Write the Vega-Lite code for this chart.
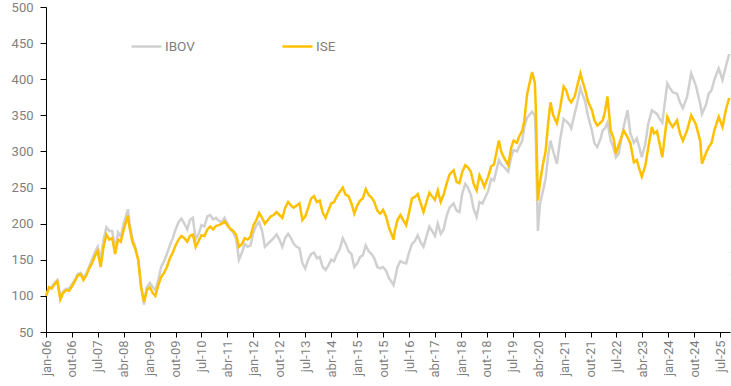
{
  "$schema": "https://vega.github.io/schema/vega-lite/v6.json",
  "autosize": {"type": "none"},
  "padding": {"left": 46, "top": 7, "right": 1, "bottom": 54},
  "width": 684,
  "height": 325,
  "background": "white",
  "config": {
    "view": {"stroke": null},
    "font": "Roboto",
    "axis": {"labelFont": "Roboto", "labelColor": "#7f7f7f", "labelFontSize": 13, "domainColor": "#000000", "tickColor": "#000000", "grid": false, "title": null}
  },
  "resolve": {"scale": {"y": "independent"}},
  "layer": [
    {
      "data": {"values": [
        {"date":"2006-01-02","ISE":100,"IBOV":100},
        {"date":"2006-02-01","ISE":112,"IBOV":110},
        {"date":"2006-03-01","ISE":110,"IBOV":112},
        {"date":"2006-04-01","ISE":116,"IBOV":118},
        {"date":"2006-05-01","ISE":120,"IBOV":122},
        {"date":"2006-06-01","ISE":95,"IBOV":100},
        {"date":"2006-07-01","ISE":104,"IBOV":106},
        {"date":"2006-08-01","ISE":108,"IBOV":110},
        {"date":"2006-09-01","ISE":107,"IBOV":110},
        {"date":"2006-10-01","ISE":113,"IBOV":116},
        {"date":"2006-11-01","ISE":120,"IBOV":122},
        {"date":"2006-12-01","ISE":128,"IBOV":130},
        {"date":"2007-01-01","ISE":130,"IBOV":132},
        {"date":"2007-02-01","ISE":122,"IBOV":126},
        {"date":"2007-03-01","ISE":128,"IBOV":130},
        {"date":"2007-04-01","ISE":138,"IBOV":140},
        {"date":"2007-05-01","ISE":145,"IBOV":150},
        {"date":"2007-06-01","ISE":155,"IBOV":160},
        {"date":"2007-07-01","ISE":162,"IBOV":168},
        {"date":"2007-08-01","ISE":140,"IBOV":150},
        {"date":"2007-09-01","ISE":168,"IBOV":178},
        {"date":"2007-10-01","ISE":185,"IBOV":195},
        {"date":"2007-11-01","ISE":178,"IBOV":190},
        {"date":"2007-12-01","ISE":180,"IBOV":190},
        {"date":"2008-01-01","ISE":158,"IBOV":165},
        {"date":"2008-02-01","ISE":178,"IBOV":188},
        {"date":"2008-03-01","ISE":175,"IBOV":182},
        {"date":"2008-04-01","ISE":192,"IBOV":200},
        {"date":"2008-05-15","ISE":211,"IBOV":220},
        {"date":"2008-06-01","ISE":195,"IBOV":200},
        {"date":"2008-07-01","ISE":175,"IBOV":180},
        {"date":"2008-08-01","ISE":165,"IBOV":168},
        {"date":"2008-09-01","ISE":150,"IBOV":150},
        {"date":"2008-10-01","ISE":112,"IBOV":115},
        {"date":"2008-11-01","ISE":92,"IBOV":88},
        {"date":"2008-12-01","ISE":108,"IBOV":112},
        {"date":"2009-01-01","ISE":112,"IBOV":118},
        {"date":"2009-02-01","ISE":104,"IBOV":112},
        {"date":"2009-03-01","ISE":100,"IBOV":108},
        {"date":"2009-04-01","ISE":115,"IBOV":122},
        {"date":"2009-05-01","ISE":126,"IBOV":140},
        {"date":"2009-06-01","ISE":132,"IBOV":148},
        {"date":"2009-07-01","ISE":140,"IBOV":158},
        {"date":"2009-08-01","ISE":152,"IBOV":170},
        {"date":"2009-09-01","ISE":160,"IBOV":180},
        {"date":"2009-10-01","ISE":170,"IBOV":192},
        {"date":"2009-11-01","ISE":178,"IBOV":202},
        {"date":"2009-12-01","ISE":183,"IBOV":207},
        {"date":"2010-01-01","ISE":180,"IBOV":200},
        {"date":"2010-02-01","ISE":175,"IBOV":192},
        {"date":"2010-03-01","ISE":183,"IBOV":205},
        {"date":"2010-04-01","ISE":185,"IBOV":208},
        {"date":"2010-05-01","ISE":168,"IBOV":178},
        {"date":"2010-06-01","ISE":176,"IBOV":186},
        {"date":"2010-07-01","ISE":184,"IBOV":198},
        {"date":"2010-08-01","ISE":183,"IBOV":196},
        {"date":"2010-09-01","ISE":192,"IBOV":210},
        {"date":"2010-10-01","ISE":196,"IBOV":212},
        {"date":"2010-11-01","ISE":192,"IBOV":206},
        {"date":"2010-12-01","ISE":197,"IBOV":208},
        {"date":"2011-01-01","ISE":198,"IBOV":204},
        {"date":"2011-02-01","ISE":200,"IBOV":202},
        {"date":"2011-03-01","ISE":203,"IBOV":208},
        {"date":"2011-04-01","ISE":198,"IBOV":200},
        {"date":"2011-05-01","ISE":193,"IBOV":192},
        {"date":"2011-06-01","ISE":190,"IBOV":188},
        {"date":"2011-07-01","ISE":185,"IBOV":180},
        {"date":"2011-08-01","ISE":168,"IBOV":150},
        {"date":"2011-09-01","ISE":172,"IBOV":160},
        {"date":"2011-10-01","ISE":180,"IBOV":172},
        {"date":"2011-11-01","ISE":178,"IBOV":168},
        {"date":"2011-12-01","ISE":182,"IBOV":170},
        {"date":"2012-01-01","ISE":198,"IBOV":188},
        {"date":"2012-02-01","ISE":205,"IBOV":198},
        {"date":"2012-03-01","ISE":215,"IBOV":202},
        {"date":"2012-04-01","ISE":208,"IBOV":190},
        {"date":"2012-05-01","ISE":200,"IBOV":168},
        {"date":"2012-06-01","ISE":205,"IBOV":172},
        {"date":"2012-07-01","ISE":210,"IBOV":176},
        {"date":"2012-08-01","ISE":212,"IBOV":180},
        {"date":"2012-09-01","ISE":216,"IBOV":185},
        {"date":"2012-10-01","ISE":212,"IBOV":178},
        {"date":"2012-11-01","ISE":208,"IBOV":168},
        {"date":"2012-12-01","ISE":222,"IBOV":180},
        {"date":"2013-01-01","ISE":230,"IBOV":186},
        {"date":"2013-02-01","ISE":225,"IBOV":180},
        {"date":"2013-03-01","ISE":222,"IBOV":172},
        {"date":"2013-04-01","ISE":225,"IBOV":168},
        {"date":"2013-05-01","ISE":228,"IBOV":166},
        {"date":"2013-06-01","ISE":205,"IBOV":145},
        {"date":"2013-07-01","ISE":210,"IBOV":138},
        {"date":"2013-08-01","ISE":222,"IBOV":150},
        {"date":"2013-09-01","ISE":235,"IBOV":158},
        {"date":"2013-10-01","ISE":238,"IBOV":160},
        {"date":"2013-11-01","ISE":230,"IBOV":152},
        {"date":"2013-12-01","ISE":232,"IBOV":154},
        {"date":"2014-01-01","ISE":215,"IBOV":140},
        {"date":"2014-02-01","ISE":208,"IBOV":136},
        {"date":"2014-03-01","ISE":218,"IBOV":142},
        {"date":"2014-04-01","ISE":228,"IBOV":150},
        {"date":"2014-05-01","ISE":230,"IBOV":148},
        {"date":"2014-06-01","ISE":238,"IBOV":158},
        {"date":"2014-07-01","ISE":244,"IBOV":165},
        {"date":"2014-08-01","ISE":250,"IBOV":180},
        {"date":"2014-09-01","ISE":240,"IBOV":172},
        {"date":"2014-10-01","ISE":238,"IBOV":162},
        {"date":"2014-11-01","ISE":228,"IBOV":158},
        {"date":"2014-12-01","ISE":214,"IBOV":140},
        {"date":"2015-01-01","ISE":225,"IBOV":145},
        {"date":"2015-02-01","ISE":232,"IBOV":154},
        {"date":"2015-03-01","ISE":235,"IBOV":156},
        {"date":"2015-04-01","ISE":248,"IBOV":170},
        {"date":"2015-05-01","ISE":240,"IBOV":162},
        {"date":"2015-06-01","ISE":236,"IBOV":158},
        {"date":"2015-07-01","ISE":230,"IBOV":152},
        {"date":"2015-08-01","ISE":218,"IBOV":140},
        {"date":"2015-09-01","ISE":214,"IBOV":138},
        {"date":"2015-10-01","ISE":219,"IBOV":140},
        {"date":"2015-11-01","ISE":210,"IBOV":135},
        {"date":"2015-12-01","ISE":195,"IBOV":125},
        {"date":"2016-01-20","ISE":178,"IBOV":115},
        {"date":"2016-02-01","ISE":190,"IBOV":122},
        {"date":"2016-03-01","ISE":205,"IBOV":140},
        {"date":"2016-04-01","ISE":212,"IBOV":148},
        {"date":"2016-05-01","ISE":205,"IBOV":146},
        {"date":"2016-06-01","ISE":198,"IBOV":145},
        {"date":"2016-07-01","ISE":215,"IBOV":160},
        {"date":"2016-08-01","ISE":235,"IBOV":172},
        {"date":"2016-09-01","ISE":237,"IBOV":176},
        {"date":"2016-10-01","ISE":241,"IBOV":184},
        {"date":"2016-11-01","ISE":228,"IBOV":174},
        {"date":"2016-12-01","ISE":216,"IBOV":168},
        {"date":"2017-01-01","ISE":230,"IBOV":182},
        {"date":"2017-02-01","ISE":243,"IBOV":196},
        {"date":"2017-03-01","ISE":238,"IBOV":190},
        {"date":"2017-04-01","ISE":233,"IBOV":183},
        {"date":"2017-05-01","ISE":246,"IBOV":200},
        {"date":"2017-06-01","ISE":230,"IBOV":186},
        {"date":"2017-07-01","ISE":240,"IBOV":192},
        {"date":"2017-08-01","ISE":255,"IBOV":210},
        {"date":"2017-09-01","ISE":268,"IBOV":222},
        {"date":"2017-10-15","ISE":274,"IBOV":228},
        {"date":"2017-11-15","ISE":258,"IBOV":218},
        {"date":"2017-12-15","ISE":256,"IBOV":216},
        {"date":"2018-01-15","ISE":272,"IBOV":242},
        {"date":"2018-02-15","ISE":281,"IBOV":255},
        {"date":"2018-03-15","ISE":278,"IBOV":250},
        {"date":"2018-04-15","ISE":272,"IBOV":240},
        {"date":"2018-05-15","ISE":255,"IBOV":220},
        {"date":"2018-06-15","ISE":246,"IBOV":209},
        {"date":"2018-07-15","ISE":267,"IBOV":230},
        {"date":"2018-08-15","ISE":258,"IBOV":228},
        {"date":"2018-09-05","ISE":251,"IBOV":234},
        {"date":"2018-10-15","ISE":265,"IBOV":245},
        {"date":"2018-11-15","ISE":279,"IBOV":262},
        {"date":"2018-12-15","ISE":282,"IBOV":260},
        {"date":"2019-02-05","ISE":315,"IBOV":288},
        {"date":"2019-03-01","ISE":300,"IBOV":282},
        {"date":"2019-03-28","ISE":292,"IBOV":279},
        {"date":"2019-05-15","ISE":281,"IBOV":272},
        {"date":"2019-06-15","ISE":305,"IBOV":292},
        {"date":"2019-07-10","ISE":315,"IBOV":302},
        {"date":"2019-08-15","ISE":312,"IBOV":300},
        {"date":"2019-09-05","ISE":320,"IBOV":306},
        {"date":"2019-10-10","ISE":329,"IBOV":315},
        {"date":"2019-11-01","ISE":343,"IBOV":334},
        {"date":"2019-12-01","ISE":380,"IBOV":347},
        {"date":"2020-01-22","ISE":410,"IBOV":355},
        {"date":"2020-02-20","ISE":395,"IBOV":350},
        {"date":"2020-03-01","ISE":360,"IBOV":318},
        {"date":"2020-03-23","ISE":232,"IBOV":190},
        {"date":"2020-04-15","ISE":258,"IBOV":228},
        {"date":"2020-05-15","ISE":282,"IBOV":245},
        {"date":"2020-06-12","ISE":300,"IBOV":262},
        {"date":"2020-07-10","ISE":340,"IBOV":295},
        {"date":"2020-08-03","ISE":368,"IBOV":315},
        {"date":"2020-09-01","ISE":350,"IBOV":300},
        {"date":"2020-10-10","ISE":339,"IBOV":283},
        {"date":"2020-11-15","ISE":362,"IBOV":318},
        {"date":"2020-12-20","ISE":390,"IBOV":345},
        {"date":"2021-01-15","ISE":385,"IBOV":342},
        {"date":"2021-02-15","ISE":372,"IBOV":338},
        {"date":"2021-03-10","ISE":368,"IBOV":332},
        {"date":"2021-04-15","ISE":376,"IBOV":352},
        {"date":"2021-05-15","ISE":392,"IBOV":368},
        {"date":"2021-06-15","ISE":408,"IBOV":388},
        {"date":"2021-07-10","ISE":396,"IBOV":378},
        {"date":"2021-08-05","ISE":385,"IBOV":369},
        {"date":"2021-09-01","ISE":370,"IBOV":350},
        {"date":"2021-10-15","ISE":357,"IBOV":329},
        {"date":"2021-11-10","ISE":343,"IBOV":311},
        {"date":"2021-12-10","ISE":336,"IBOV":306},
        {"date":"2022-01-15","ISE":340,"IBOV":318},
        {"date":"2022-02-05","ISE":343,"IBOV":329},
        {"date":"2022-03-01","ISE":355,"IBOV":332},
        {"date":"2022-03-28","ISE":376,"IBOV":340},
        {"date":"2022-05-01","ISE":329,"IBOV":315},
        {"date":"2022-06-01","ISE":318,"IBOV":305},
        {"date":"2022-06-25","ISE":297,"IBOV":292},
        {"date":"2022-07-25","ISE":309,"IBOV":297},
        {"date":"2022-09-15","ISE":329,"IBOV":334},
        {"date":"2022-10-25","ISE":320,"IBOV":357},
        {"date":"2022-11-25","ISE":311,"IBOV":325},
        {"date":"2023-01-01","ISE":285,"IBOV":312},
        {"date":"2023-02-01","ISE":288,"IBOV":318},
        {"date":"2023-03-01","ISE":275,"IBOV":305},
        {"date":"2023-03-25","ISE":265,"IBOV":292},
        {"date":"2023-05-01","ISE":280,"IBOV":310},
        {"date":"2023-06-01","ISE":305,"IBOV":338},
        {"date":"2023-07-10","ISE":334,"IBOV":357},
        {"date":"2023-08-01","ISE":325,"IBOV":355},
        {"date":"2023-09-01","ISE":328,"IBOV":352},
        {"date":"2023-10-01","ISE":310,"IBOV":345},
        {"date":"2023-10-28","ISE":292,"IBOV":340},
        {"date":"2023-12-01","ISE":330,"IBOV":375},
        {"date":"2023-12-20","ISE":348,"IBOV":394},
        {"date":"2024-01-15","ISE":340,"IBOV":388},
        {"date":"2024-02-15","ISE":334,"IBOV":382},
        {"date":"2024-04-01","ISE":343,"IBOV":380},
        {"date":"2024-05-01","ISE":325,"IBOV":368},
        {"date":"2024-06-01","ISE":315,"IBOV":360},
        {"date":"2024-07-15","ISE":329,"IBOV":375},
        {"date":"2024-08-28","ISE":350,"IBOV":408},
        {"date":"2024-10-15","ISE":338,"IBOV":392},
        {"date":"2024-12-01","ISE":315,"IBOV":366},
        {"date":"2024-12-20","ISE":283,"IBOV":352},
        {"date":"2025-02-01","ISE":298,"IBOV":365},
        {"date":"2025-03-01","ISE":306,"IBOV":380},
        {"date":"2025-04-01","ISE":312,"IBOV":385},
        {"date":"2025-05-01","ISE":330,"IBOV":400},
        {"date":"2025-06-15","ISE":348,"IBOV":415},
        {"date":"2025-07-25","ISE":334,"IBOV":399},
        {"date":"2025-08-28","ISE":357,"IBOV":417},
        {"date":"2025-10-03","ISE":374,"IBOV":435}
      ]},
      "encoding": {
        "x": {
          "field": "date", "type": "temporal",
          "scale": {"domain": [{"year": 2006, "month": 1, "date": 1}, {"year": 2025, "month": 10, "date": 12}]},
          "axis": {
            "values": [
              {"year":2006,"month":1,"date":1},{"year":2006,"month":10,"date":1},{"year":2007,"month":7,"date":1},
              {"year":2008,"month":4,"date":1},{"year":2009,"month":1,"date":1},{"year":2009,"month":10,"date":1},
              {"year":2010,"month":7,"date":1},{"year":2011,"month":4,"date":1},{"year":2012,"month":1,"date":1},
              {"year":2012,"month":10,"date":1},{"year":2013,"month":7,"date":1},{"year":2014,"month":4,"date":1},
              {"year":2015,"month":1,"date":1},{"year":2015,"month":10,"date":1},{"year":2016,"month":7,"date":1},
              {"year":2017,"month":4,"date":1},{"year":2018,"month":1,"date":1},{"year":2018,"month":10,"date":1},
              {"year":2019,"month":7,"date":1},{"year":2020,"month":4,"date":1},{"year":2021,"month":1,"date":1},
              {"year":2021,"month":10,"date":1},{"year":2022,"month":7,"date":1},{"year":2023,"month":4,"date":1},
              {"year":2024,"month":1,"date":1},{"year":2024,"month":10,"date":1},{"year":2025,"month":7,"date":1}
            ],
            "labelExpr": "['jan','fev','mar','abr','mai','jun','jul','ago','set','out','nov','dez'][month(datum.value)] + '-' + timeFormat(datum.value, '%y')",
            "labelAngle": -90,
            "labelAlign": "right",
            "labelBaseline": "middle",
            "labelPadding": 3,
            "labelFontSize": 13,
            "labelColor": "#7f7f7f",
            "domainColor": "#000000",
            "tickColor": "#000000",
            "tickSize": 5,
            "labelOverlap": false,
            "labelFlush": false,
            "grid": false,
            "title": null
          }
        }
      },
      "layer": [
        {
          "mark": {"type": "line", "strokeWidth": 2.5, "interpolate": "linear"},
          "encoding": {
            "y": {"field": "IBOV", "type": "quantitative",
              "scale": {"domain": [50, 500], "nice": false, "zero": false},
              "axis": {"values": [50,100,150,200,250,300,350,400,450,500], "tickSize": 6, "labelPadding": 7,
                "labelFontSize": 13, "labelColor": "#7f7f7f", "domainColor": "#000000", "tickColor": "#000000",
                "labelOverlap": false, "labelFlush": false, "grid": false, "title": null}},
            "color": {"datum": "IBOV", "type": "nominal",
              "scale": {"domain": ["IBOV", "ISE"], "range": ["#d0d0d0", "#ffc000"]},
              "legend": {"title": null, "orient": "none", "legendX": 84, "legendY": 23, "direction": "horizontal",
                "symbolType": "stroke", "symbolSize": 900, "symbolStrokeWidth": 2.5, "labelFontSize": 13.5, "labelFont": "Roboto",
                "labelColor": "#7f7f7f", "columnPadding": 82, "labelOffset": 2, "padding": 0}}
          }
        },
        {
          "mark": {"type": "line", "strokeWidth": 2.5, "interpolate": "linear"},
          "encoding": {
            "y": {"field": "ISE", "type": "quantitative", "scale": {"domain": [50, 500], "nice": false, "zero": false},
              "axis": {"values": [50,100,150,200,250,300,350,400,450,500], "tickSize": 6, "labelPadding": 7,
                "labelFontSize": 13, "labelColor": "#7f7f7f", "domainColor": "#000000", "tickColor": "#000000",
                "labelOverlap": false, "labelFlush": false, "grid": false, "title": null}},
            "color": {"datum": "ISE", "type": "nominal"}
          }
        }
      ]
    },
    {
      "data": {"values": [{"r": 0}, {"r": 14}]},
      "mark": {"type": "point", "opacity": 0},
      "encoding": {
        "y": {"field": "r", "type": "quantitative",
          "scale": {"domain": [-0.608, 14.118], "nice": false, "zero": false},
          "axis": {"orient": "right", "labels": false, "domain": false, "tickColor": "#d9d9d9", "tickSize": 4,
            "values": [0,1,2,3,4,5,6,7,8,9,10,11,12,13,14], "title": null, "grid": false}}
      }
    }
  ]
}
